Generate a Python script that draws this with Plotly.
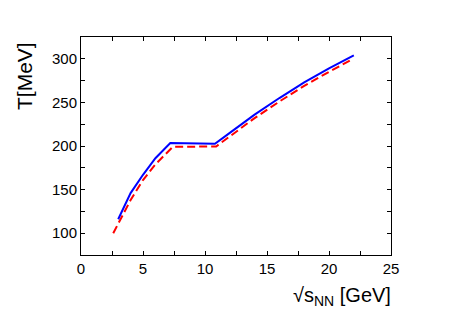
import plotly.graph_objects as go

# Blue solid curve
blue_x = [3.0, 4.0, 5.0, 6.0, 7.2, 10.8, 12.0, 14.0, 16.0, 18.0, 20.0, 22.0]
blue_y = [116, 146, 167, 186, 203.5, 202.5, 215, 236, 255, 273, 289, 304]

# Red dashed curve
red_x = [2.6, 3.2, 4.0, 5.0, 6.0, 7.4, 10.9, 12.0, 14.0, 16.0, 18.0, 20.0, 21.7]
red_y = [100, 117, 138, 161, 179, 199, 199.5, 211, 232, 251, 269, 285, 298]

x_ticks = [0, 5, 10, 15, 20, 25]
y_ticks = [100, 150, 200, 250, 300]

font_family = "Liberation Sans, Arial, Helvetica, sans-serif"

fig = go.Figure()
fig.add_trace(go.Scatter(x=red_x, y=red_y, mode="lines",
                         line=dict(color="#FF0000", width=2, dash="8px,4px"),
                         showlegend=False))
fig.add_trace(go.Scatter(x=blue_x, y=blue_y, mode="lines",
                         line=dict(color="#0000FF", width=2),
                         showlegend=False))

axis_common = dict(
    showgrid=False, zeroline=False, showline=True, linecolor="black", linewidth=1,
    mirror="ticks", ticks="inside", ticklen=4, tickcolor="black", tickwidth=1,
    tickfont=dict(family=font_family, size=15, color="black"),
)

fig.update_xaxes(range=[0, 25], tickvals=x_ticks, ticktext=[str(v) for v in x_ticks],
                 minor=dict(dtick=2.5, tick0=0, ticks="inside", ticklen=4,
                            tickcolor="black", showgrid=False),
                 **axis_common)
fig.update_yaxes(range=[75, 325], tickvals=y_ticks, ticktext=[str(v) for v in y_ticks],
                 minor=dict(dtick=25, tick0=75, ticks="inside", ticklen=4,
                            tickcolor="black", showgrid=False),
                 **axis_common)

fig.add_annotation(text="T[MeV]", xref="paper", yref="paper",
                   x=-0.184, y=0.821, xanchor="center", yanchor="middle",
                   textangle=-90, showarrow=False,
                   font=dict(family=font_family, size=21, color="black"))
fig.add_annotation(text="√s<sub>NN</sub> [GeV]", xref="paper", yref="paper",
                   x=1.006, y=-0.19, xanchor="right", yanchor="middle",
                   showarrow=False,
                   font=dict(family=font_family, size=20, color="black"))

# page body adds an 8px offset; margins compensate so the plot frame lands
# at x 81..391, y 37..255 in the window
fig.update_layout(
    width=454, height=321,
    margin=dict(l=73, r=71, t=29, b=74),
    paper_bgcolor="white", plot_bgcolor="white",
    font=dict(family=font_family, color="black"),
)

fig.write_html("out.html")
